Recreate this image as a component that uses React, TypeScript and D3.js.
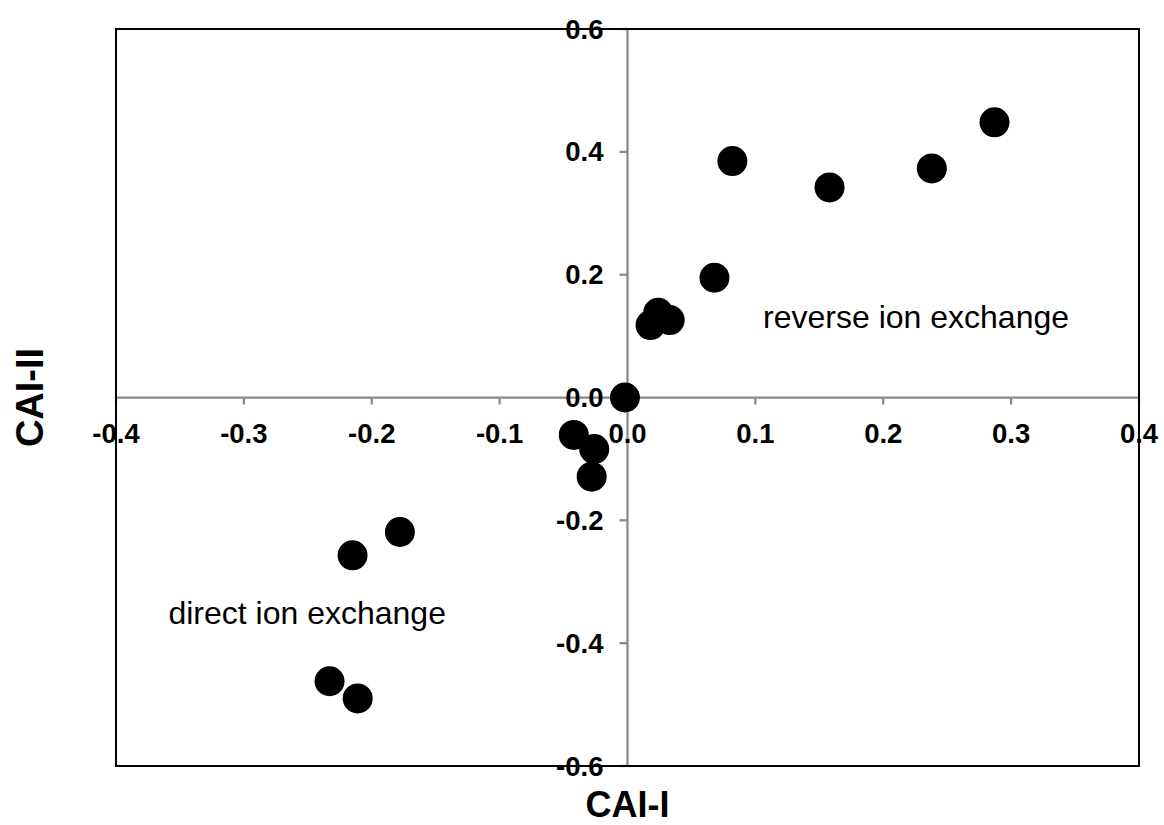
import React from "react";
import * as d3 from "d3";

const cai1 = [0.287, 0.082, 0.158, 0.238, 0.068, 0.024, 0.033, 0.018, -0.002, -0.042, -0.026, -0.028, -0.178, -0.215, -0.233, -0.211];
const cai2 = [0.448, 0.385, 0.342, 0.373, 0.195, 0.138, 0.126, 0.118, 0.0, -0.061, -0.084, -0.129, -0.219, -0.257, -0.462, -0.49];
const xTicks = [-0.4, -0.3, -0.2, -0.1, 0.0, 0.1, 0.2, 0.3, 0.4];
const yTicks = [-0.6, -0.4, -0.2, 0.0, 0.2, 0.4, 0.6];
const annotations = [
  { text: "reverse ion exchange", x: 0.106, y: 0.113 },
  { text: "direct ion exchange", x: -0.359, y: -0.369 },
];

const W = 1164;
const H = 825;
const FONT = "'Liberation Sans', Arial, Helvetica, sans-serif";
const AXIS = "#898989";
const fmt = (t: number) => d3.format(".1f")(t).replace("\u2212", "-");

export default function App() {
  const x = d3.scaleLinear().domain([-0.4, 0.4]).range([116, 1139]);
  const y = d3.scaleLinear().domain([-0.6, 0.6]).range([766, 29]);
  const x0 = x(0);
  const y0 = y(0);
  const pts = cai1.map((v, i) => [v, cai2[i]]);

  return (
    <svg
      width={W}
      height={H}
      style={{ position: "absolute", left: 0, top: 0, background: "#fff" }}
      fontFamily={FONT}
    >
      <rect x={0} y={0} width={W} height={H} fill="#fff" />
      {/* axes through origin */}
      <line x1={x(-0.4)} x2={x(0.4)} y1={y0} y2={y0} stroke={AXIS} strokeWidth={2.25} />
      <line x1={x0} x2={x0} y1={y(0.6)} y2={y(-0.6)} stroke={AXIS} strokeWidth={2.25} />
      {xTicks.map((t) => (
        <line key={"xt" + t} x1={x(t)} x2={x(t)} y1={y0} y2={y0 + 7} stroke={AXIS} strokeWidth={2.25} />
      ))}
      {yTicks.map((t) => (
        <line key={"yt" + t} x1={x0 - 8} x2={x0} y1={y(t)} y2={y(t)} stroke={AXIS} strokeWidth={2.25} />
      ))}
      {/* plot border */}
      <rect
        x={x(-0.4)}
        y={y(0.6)}
        width={x(0.4) - x(-0.4)}
        height={y(-0.6) - y(0.6)}
        fill="none"
        stroke="#000"
        strokeWidth={2}
      />
      {/* tick labels */}
      {xTicks.map((t) => (
        <text
          key={"xl" + t}
          x={x(t)}
          y={y0 + 45.5}
          textAnchor="middle"
          fontSize={27.5}
          fontWeight="bold"
          fill="#000"
        >
          {fmt(t)}
        </text>
      ))}
      {yTicks.map((t) => (
        <text
          key={"yl" + t}
          x={x0 - 24}
          y={y(t) + 9.5}
          textAnchor="end"
          fontSize={27.5}
          fontWeight="bold"
          fill="#000"
        >
          {fmt(t)}
        </text>
      ))}
      {/* points */}
      {pts.map((p, i) => (
        <circle key={"p" + i} cx={x(p[0])} cy={y(p[1])} r={15} fill="#000" />
      ))}
      {/* annotations */}
      {annotations.map((a) => (
        <text key={a.text} x={x(a.x)} y={y(a.y)} fontSize={32} fill="#000">
          {a.text}
        </text>
      ))}
      {/* axis titles */}
      <text x={x0} y={817} textAnchor="middle" fontSize={36} fontWeight="bold" fill="#000">
        CAI-I
      </text>
      <text
        transform={`translate(43, ${(y(0.6) + y(-0.6)) / 2}) rotate(-90)`}
        textAnchor="middle"
        fontSize={38}
        fontWeight="bold"
        fill="#000"
      >
        CAI-II
      </text>
    </svg>
  );
}
